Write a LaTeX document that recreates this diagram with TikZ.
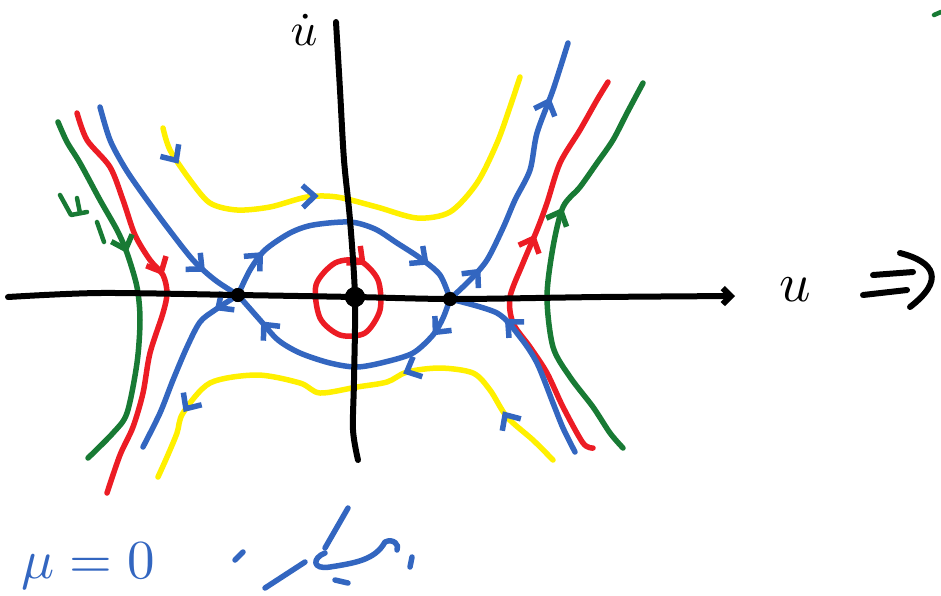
\documentclass[tikz,border=0pt]{standalone}
\usepackage{amsmath}
\usepackage{tikz}
\usetikzlibrary{arrows.meta, decorations.markings}
\usepackage{xcolor}
\definecolor{penblue}{RGB}{51,102,192}
\definecolor{penred}{RGB}{236,28,36}
\definecolor{pengreen}{RGB}{24,122,52}
\definecolor{penyellow}{RGB}{255,240,0}

\begin{document}
\begin{tikzpicture}[
  x=1pt, y=-1pt,
  line cap=round, line join=round,
  axis/.style={line width=6pt, black},
  traj/.style={line width=5.5pt},
  fixpt/.style={circle, fill=black, inner sep=0pt, minimum size=#1},
  lbl/.style={scale=5.5, inner sep=0pt},
  flow/.style={postaction={decorate, decoration={markings,
      mark=at position #1 with {\arrow{Straight Barb[length=12pt, width=22pt]}}}}},
  bflow/.style={postaction={decorate, decoration={markings,
      mark=at position #1 with {\arrow{Straight Barb[length=12pt, width=22pt, color=penblue]}}}}}
]
\useasboundingbox (0,0) rectangle (941,595);

\node[fixpt=14pt] (ls) at (238,295) {};
\node[fixpt=20pt] (c)  at (355,297) {};
\node[fixpt=14pt] (rs) at (450,299) {};

% yellow orbits
\draw[traj, penyellow, bflow=0.08, bflow=0.41] plot[smooth] coordinates {(163,128) (170,150) (190,180) (210,203) (237,210) (270,207) (307,197) (337,197) (377,207) (417,218) (450,212) (477,183) (497,143) (510,107) (520,77)};
\draw[traj, penyellow, bflow=0.14, bflow=0.38, bflow=0.86] plot[smooth] coordinates {(553,460) (533,440) (507,417) (490,390) (473,373) (440,368) (407,372) (387,382) (357,387) (320,393) (300,383) (257,375) (210,383) (183,413) (177,433) (167,457) (158,477)};

% red and green orbits
\draw[traj, penred, flow=0.45] plot[smooth] coordinates {(77,113) (87,140) (110,167) (123,200) (135,235) (150,260) (163,275) (167,293) (163,313) (150,353) (143,393) (133,427) (120,455) (107,493)};
\draw[traj, pengreen, flow=0.4] plot[smooth] coordinates {(58,122) (67,142) (80,163) (100,200) (117,230) (127,253) (137,287) (140,320) (137,363) (127,413) (113,433) (88,458)};
\draw[traj, penred, flow=0.59] plot[smooth] coordinates {(593,448) (583,443) (563,407) (547,373) (530,347) (513,323) (510,297) (523,263) (537,230) (547,203) (560,163) (580,130) (597,100) (608,82)};
\draw[traj, pengreen, flow=0.64] plot[smooth] coordinates {(623,448) (610,433) (593,407) (570,377) (553,347) (547,297) (553,247) (563,207) (580,187) (597,163) (613,140) (627,113) (643,83)};
\draw[traj, penred, flow=0.03] plot[smooth cycle] coordinates {(335,263) (360,261) (378,280) (380,310) (365,333) (340,335) (320,318) (316,285)};

\draw[line width=4.5pt, pengreen] (60,195) -- (71,215) -- (87,212) (77,198) -- (80,213) (97,222) -- (104,242);
\draw[line width=4.5pt, pengreen] (934,15) -- (941,12);

% separatrices
\draw[traj, penblue, flow=0.83] plot[smooth] coordinates {(100,107) (110,140) (125,168) (142,193) (167,227) (193,260) (215,280) (ls.center)};
\draw[traj, penblue, flow=0.15] plot[smooth] coordinates {(ls.center) (215,310) (200,322) (187,347) (173,380) (160,413) (143,447)};
\draw[traj, penblue, flow=0.18, flow=0.85] plot[smooth] coordinates {(ls.center) (250,270) (265,250) (290,233) (313,225) (350,222) (375,229) (397,243) (420,258) (440,275) (rs.center)};
\draw[traj, penblue, flow=0.15, flow=0.87] plot[smooth] coordinates {(rs.center) (443,318) (433,335) (413,353) (385,362) (357,367) (330,363) (300,353) (278,340) (260,320) (ls.center)};
\draw[traj, penblue, flow=0.15, flow=0.8] plot[smooth] coordinates {(rs.center) (470,280) (487,260) (503,228) (515,200) (530,170) (537,133) (553,90) (568,43)};
\draw[traj, penblue, flow=0.72] plot[smooth] coordinates {(575,452) (563,428) (553,403) (537,363) (520,337) (497,313) (rs.center)};

% axes
\draw[axis, -{Straight Barb[length=8pt, width=16pt]}] plot[smooth] coordinates {(8,297) (100,293) (238,295) (355,297) (455,299) (600,297) (735,296)};
\draw[axis] plot[smooth] coordinates {(336,22) (340,90) (344,160) (350,220) (355,297) (354,380) (353,430) (358,460)};

\node[fixpt=14pt] at (ls) {};
\node[fixpt=20pt] at (c) {};
\node[fixpt=14pt] at (rs) {};

\node[lbl] (ulab) at (795,290) {$u$};
\node[lbl, scale=0.85] (udot) at (304,30) {$\dot u$};
\draw[line width=6pt] (873,275) -- (913,272) (863,295) -- (907,290);
\draw[line width=6pt] (900,253) .. controls (935,262) and (945,280) .. (910,307);

\node[lbl, text=penblue, anchor=west] (mu) at (20,566) {$\mu=0$};
\draw[line width=5.5pt, penblue] (235,560) -- (243,552);
\draw[line width=5.5pt, penblue] (265,588) -- (305,562);
\draw[line width=5.5pt, penblue] (325,553) .. controls (312,558) and (312,570) .. (330,567) .. controls (355,563) and (375,560) .. (385,542) .. controls (393,538) and (400,545) .. (397,550);
\draw[line width=5.5pt, penblue] (325,548) -- (348,508) (335,580) -- (348,583) (412,557) -- (410,567);
\end{tikzpicture}
\end{document}
